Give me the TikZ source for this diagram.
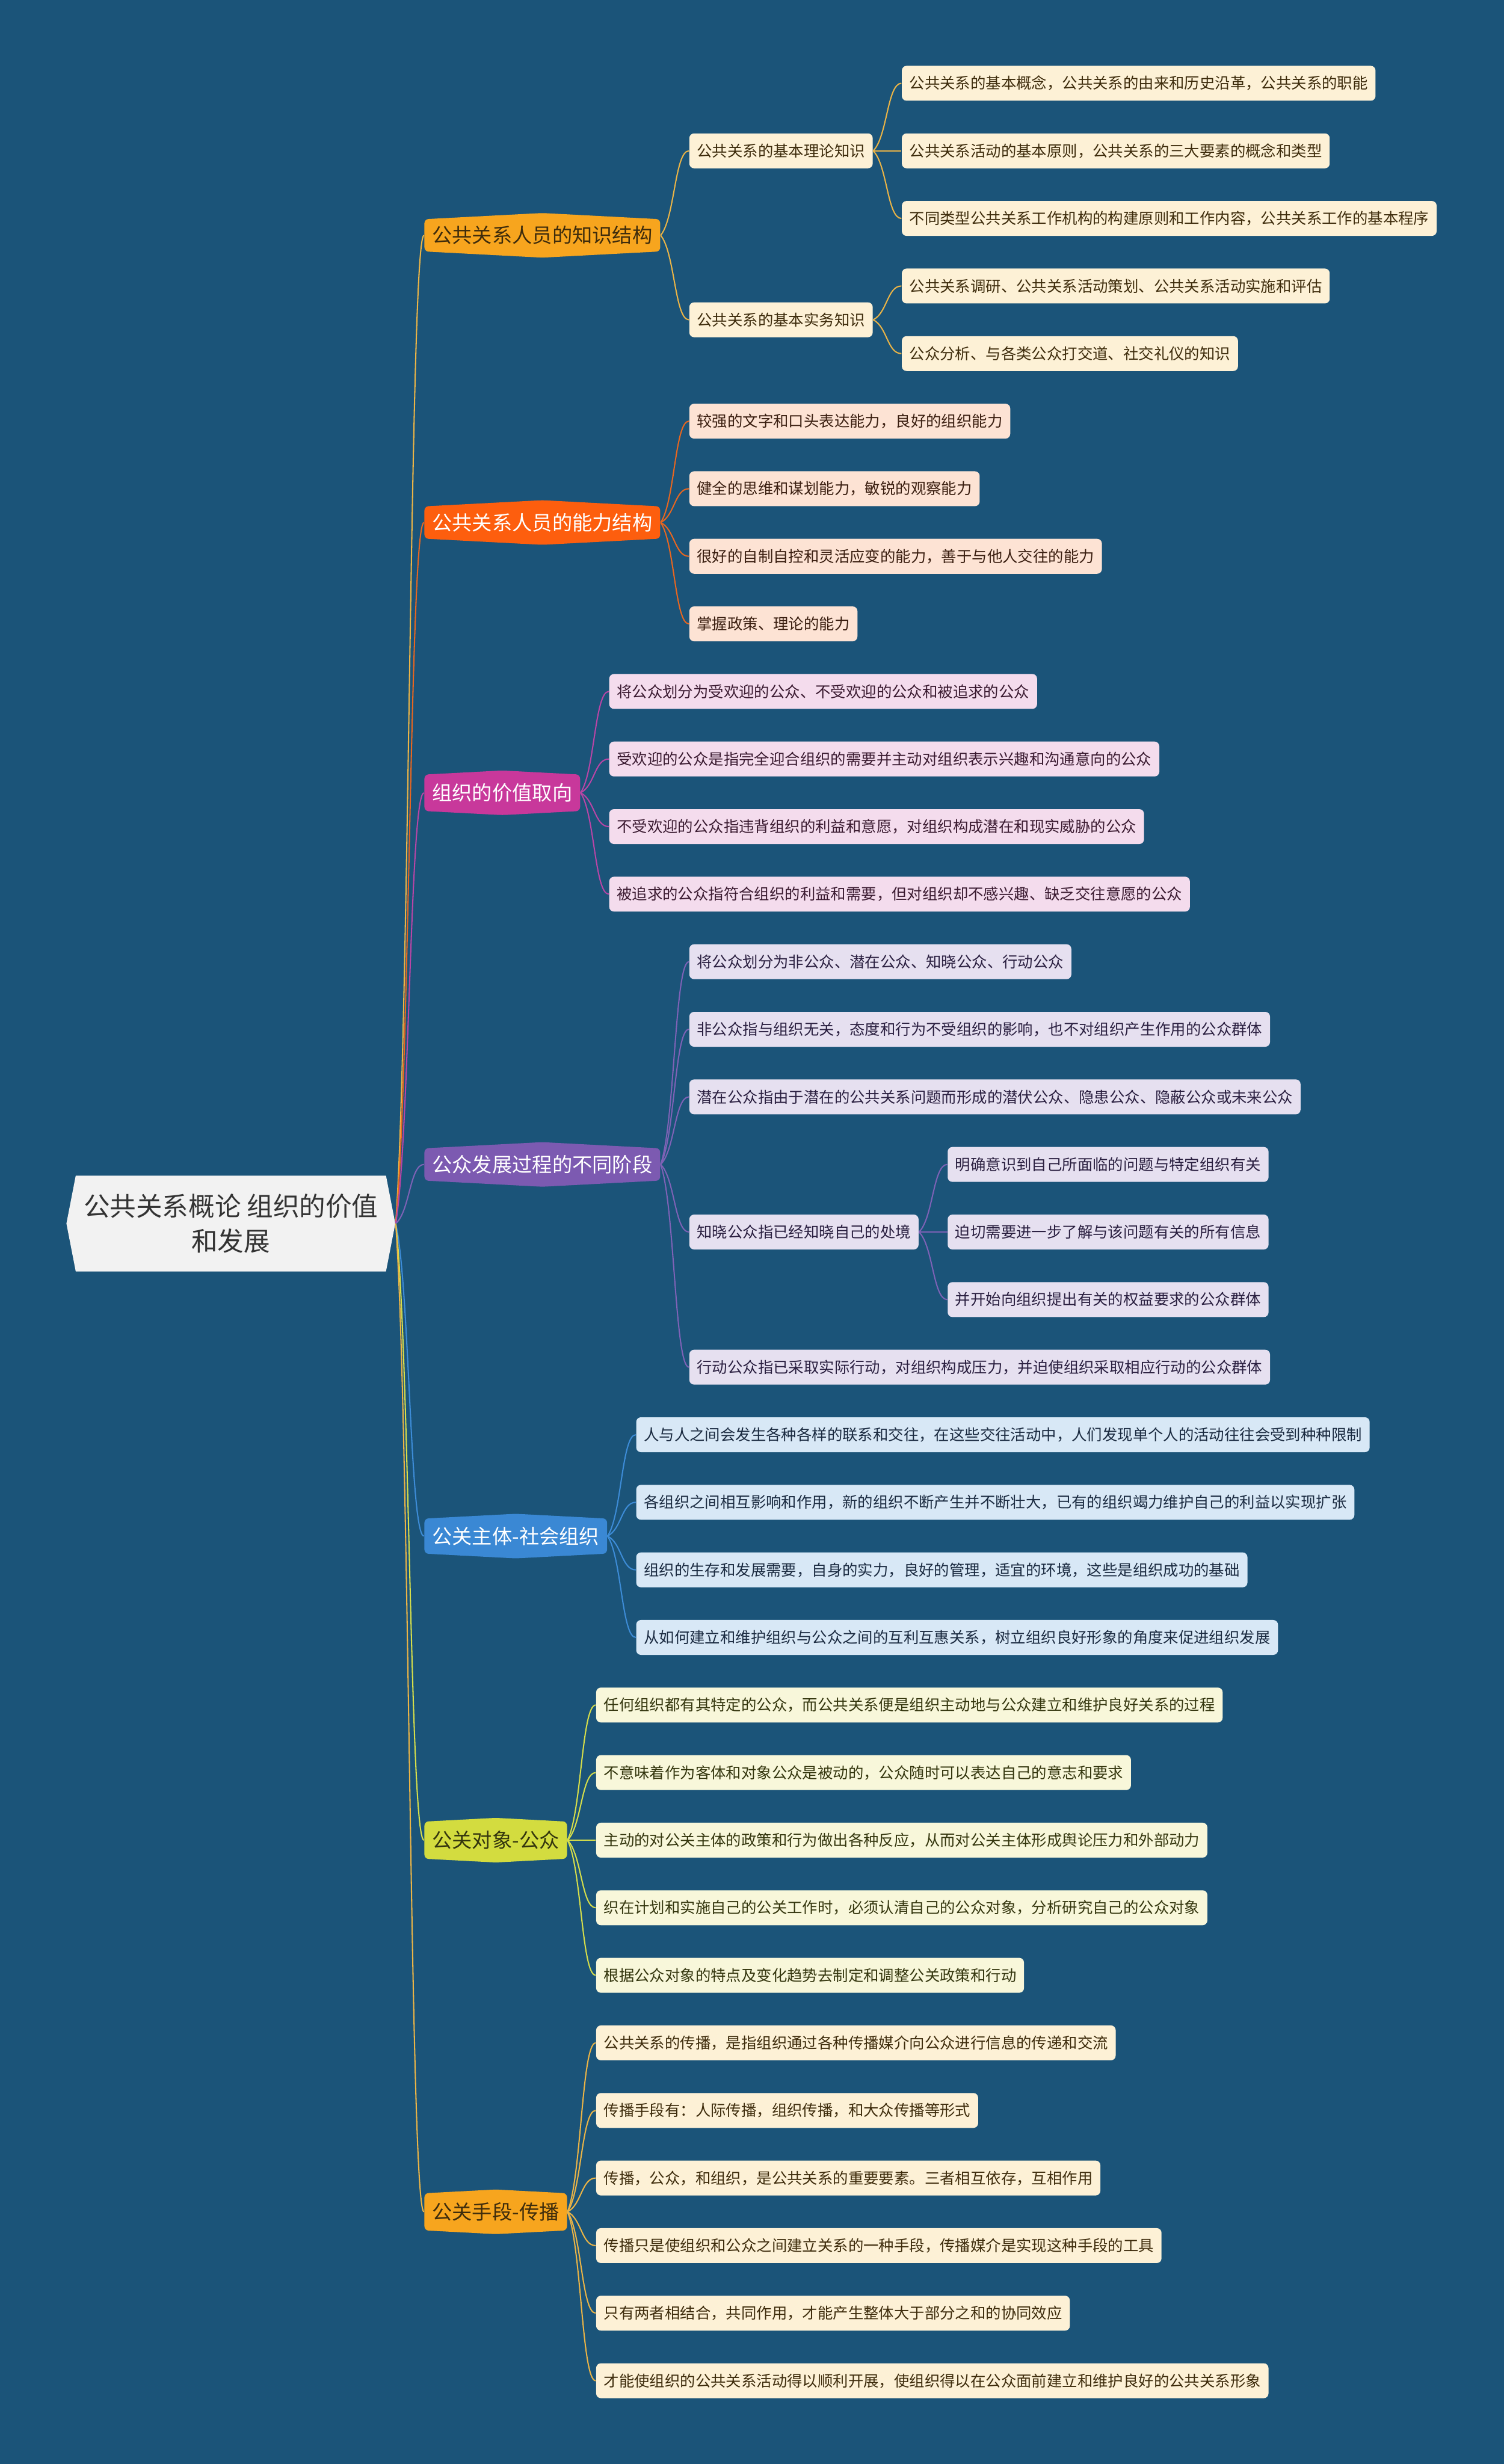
\documentclass[tikz,border=0pt]{standalone}
\usepackage{fontspec}
\setmainfont{Noto Sans CJK SC}
\usetikzlibrary{calc,shapes.symbols}

\definecolor{bg}{HTML}{1B5479}
\definecolor{rootfill}{HTML}{F2F2F2}
\definecolor{roottext}{HTML}{333333}
% branch colours: node fill, line, leaf fill, leaf text
\definecolor{orfill}{HTML}{F7A51E}
\definecolor{orline}{HTML}{EBB446}
\definecolor{orleaf}{HTML}{FDF1D6}
\definecolor{ortext}{HTML}{3E2C0C}
\definecolor{redfill}{HTML}{FD5E0E}
\definecolor{redline}{HTML}{E8661F}
\definecolor{redleaf}{HTML}{FDE3D4}
\definecolor{redtext}{HTML}{3A1E10}
\definecolor{magfill}{HTML}{C8389B}
\definecolor{magline}{HTML}{B945A6}
\definecolor{magleaf}{HTML}{F4DCED}
\definecolor{magtext}{HTML}{3A1A30}
\definecolor{purfill}{HTML}{7C5AB1}
\definecolor{purline}{HTML}{7E62B6}
\definecolor{purleaf}{HTML}{E6E0F0}
\definecolor{purtext}{HTML}{2A1F40}
\definecolor{blufill}{HTML}{3A88D4}
\definecolor{bluline}{HTML}{3D8CD7}
\definecolor{bluleaf}{HTML}{D8E8F6}
\definecolor{blutext}{HTML}{1A2A40}
\definecolor{grnfill}{HTML}{D3DC3F}
\definecolor{grnline}{HTML}{D6DE4A}
\definecolor{grnleaf}{HTML}{F8F7DA}
\definecolor{grntext}{HTML}{34360E}

\tikzset{
  root/.style={signal, signal to=east and west, signal pointer angle=158,
    fill=rootfill, text=roottext, align=center, inner xsep=3.85pt, inner ysep=0pt,
    minimum height=46.4pt, font=\fontsize{12.7}{16.7}\selectfont},
  hexa/.style 2 args={anchor=west, xshift=13.7pt, signal, signal to=north and south,
    signal pointer angle=174, fill=#1, text=#2, inner xsep=3.75pt, inner ysep=0pt,
    minimum height=21.6pt, rounded corners=2pt, font=\fontsize{9.7}{11}\selectfont},
  leaf/.style 2 args={anchor=west, xshift=13.7pt, fill=#1, text=#2, inner xsep=3.7pt,
    inner ysep=0pt, minimum height=16.9pt, rounded corners=2.3pt,
    font=\fontsize{7.4}{9}\selectfont},
  wire/.style={draw=#1, line width=0.6pt},
}
% curved connector, parent east to child west
\newcommand{\link}[3]{\draw[wire=#1] (#2.east) .. controls ($(#2.east)!0.2!(#3.west)+(5.4,0)$)
  and ($(#2.east |- #3.west)+(9,0)$) .. (#3.west);}

\begin{document}
\begin{tikzpicture}[x=0.02675cm, y=-0.02675cm]
\fill[bg] (0,0) rectangle (957,1568);

\node[root, anchor=west] (root) at (42,778.6) {公共关系概论 组织的价值\\和发展};

% first level
\node[hexa={orfill}{ortext}] (know) at (root.east |- 0,149.75) {公共关系人员的知识结构};
\node[hexa={redfill}{white}] (abil) at (root.east |- 0,332.5) {公共关系人员的能力结构};
\node[hexa={magfill}{white}] (value) at (root.east |- 0,504.5) {组织的价值取向};
\node[hexa={purfill}{white}] (stage) at (root.east |- 0,741) {公众发展过程的不同阶段};
\node[hexa={blufill}{white}] (subj) at (root.east |- 0,977.5) {公关主体-社会组织};
\node[hexa={grnfill}{grntext}] (obj) at (root.east |- 0,1171) {公关对象-公众};
\node[hexa={orfill}{ortext}] (media) at (root.east |- 0,1407.5) {公关手段-传播};

% knowledge
\node[leaf={orleaf}{ortext}] (know-th) at (know.east |- 0,96) {公共关系的基本理论知识};
\node[leaf={orleaf}{ortext}] (know-pr) at (know.east |- 0,203.5) {公共关系的基本实务知识};
\node[leaf={orleaf}{ortext}] (know-th1) at (know-th.east |- 0,53) {公共关系的基本概念，公共关系的由来和历史沿革，公共关系的职能};
\node[leaf={orleaf}{ortext}] (know-th2) at (know-th.east |- 0,96) {公共关系活动的基本原则，公共关系的三大要素的概念和类型};
\node[leaf={orleaf}{ortext}] (know-th3) at (know-th.east |- 0,139) {不同类型公共关系工作机构的构建原则和工作内容，公共关系工作的基本程序};
\node[leaf={orleaf}{ortext}] (know-pr1) at (know-pr.east |- 0,182) {公共关系调研、公共关系活动策划、公共关系活动实施和评估};
\node[leaf={orleaf}{ortext}] (know-pr2) at (know-pr.east |- 0,225) {公众分析、与各类公众打交道、社交礼仪的知识};

% ability
\node[leaf={redleaf}{redtext}] (abil1) at (abil.east |- 0,268) {较强的文字和口头表达能力，良好的组织能力};
\node[leaf={redleaf}{redtext}] (abil2) at (abil.east |- 0,311) {健全的思维和谋划能力，敏锐的观察能力};
\node[leaf={redleaf}{redtext}] (abil3) at (abil.east |- 0,354) {很好的自制自控和灵活应变的能力，善于与他人交往的能力};
\node[leaf={redleaf}{redtext}] (abil4) at (abil.east |- 0,397) {掌握政策、理论的能力};

% value
\node[leaf={magleaf}{magtext}] (value1) at (value.east |- 0,440) {将公众划分为受欢迎的公众、不受欢迎的公众和被追求的公众};
\node[leaf={magleaf}{magtext}] (value2) at (value.east |- 0,483) {受欢迎的公众是指完全迎合组织的需要并主动对组织表示兴趣和沟通意向的公众};
\node[leaf={magleaf}{magtext}] (value3) at (value.east |- 0,526) {不受欢迎的公众指违背组织的利益和意愿，对组织构成潜在和现实威胁的公众};
\node[leaf={magleaf}{magtext}] (value4) at (value.east |- 0,569) {被追求的公众指符合组织的利益和需要，但对组织却不感兴趣、缺乏交往意愿的公众};

% stages
\node[leaf={purleaf}{purtext}] (stage1) at (stage.east |- 0,612) {将公众划分为非公众、潜在公众、知晓公众、行动公众};
\node[leaf={purleaf}{purtext}] (stage2) at (stage.east |- 0,655) {非公众指与组织无关，态度和行为不受组织的影响，也不对组织产生作用的公众群体};
\node[leaf={purleaf}{purtext}] (stage3) at (stage.east |- 0,698) {潜在公众指由于潜在的公共关系问题而形成的潜伏公众、隐患公众、隐蔽公众或未来公众};
\node[leaf={purleaf}{purtext}] (stage4) at (stage.east |- 0,784) {知晓公众指已经知晓自己的处境};
\node[leaf={purleaf}{purtext}] (stage5) at (stage.east |- 0,870) {行动公众指已采取实际行动，对组织构成压力，并迫使组织采取相应行动的公众群体};
\node[leaf={purleaf}{purtext}] (stage4a) at (stage4.east |- 0,741) {明确意识到自己所面临的问题与特定组织有关};
\node[leaf={purleaf}{purtext}] (stage4b) at (stage4.east |- 0,784) {迫切需要进一步了解与该问题有关的所有信息};
\node[leaf={purleaf}{purtext}] (stage4c) at (stage4.east |- 0,827) {并开始向组织提出有关的权益要求的公众群体};

% subject
\node[leaf={bluleaf}{blutext}] (subj1) at (subj.east |- 0,913) {人与人之间会发生各种各样的联系和交往，在这些交往活动中，人们发现单个人的活动往往会受到种种限制};
\node[leaf={bluleaf}{blutext}] (subj2) at (subj.east |- 0,956) {各组织之间相互影响和作用，新的组织不断产生并不断壮大，已有的组织竭力维护自己的利益以实现扩张};
\node[leaf={bluleaf}{blutext}] (subj3) at (subj.east |- 0,999) {组织的生存和发展需要，自身的实力，良好的管理，适宜的环境，这些是组织成功的基础};
\node[leaf={bluleaf}{blutext}] (subj4) at (subj.east |- 0,1042) {从如何建立和维护组织与公众之间的互利互惠关系，树立组织良好形象的角度来促进组织发展};

% object
\node[leaf={grnleaf}{grntext}] (obj1) at (obj.east |- 0,1085) {任何组织都有其特定的公众，而公共关系便是组织主动地与公众建立和维护良好关系的过程};
\node[leaf={grnleaf}{grntext}] (obj2) at (obj.east |- 0,1128) {不意味着作为客体和对象公众是被动的，公众随时可以表达自己的意志和要求};
\node[leaf={grnleaf}{grntext}] (obj3) at (obj.east |- 0,1171) {主动的对公关主体的政策和行为做出各种反应，从而对公关主体形成舆论压力和外部动力};
\node[leaf={grnleaf}{grntext}] (obj4) at (obj.east |- 0,1214) {织在计划和实施自己的公关工作时，必须认清自己的公众对象，分析研究自己的公众对象};
\node[leaf={grnleaf}{grntext}] (obj5) at (obj.east |- 0,1257) {根据公众对象的特点及变化趋势去制定和调整公关政策和行动};

% media
\node[leaf={orleaf}{ortext}] (media1) at (media.east |- 0,1300) {公共关系的传播，是指组织通过各种传播媒介向公众进行信息的传递和交流};
\node[leaf={orleaf}{ortext}] (media2) at (media.east |- 0,1343) {传播手段有：人际传播，组织传播，和大众传播等形式};
\node[leaf={orleaf}{ortext}] (media3) at (media.east |- 0,1386) {传播，公众，和组织，是公共关系的重要要素。三者相互依存，互相作用};
\node[leaf={orleaf}{ortext}] (media4) at (media.east |- 0,1429) {传播只是使组织和公众之间建立关系的一种手段，传播媒介是实现这种手段的工具};
\node[leaf={orleaf}{ortext}] (media5) at (media.east |- 0,1472) {只有两者相结合，共同作用，才能产生整体大于部分之和的协同效应};
\node[leaf={orleaf}{ortext}] (media6) at (media.east |- 0,1515) {才能使组织的公共关系活动得以顺利开展，使组织得以在公众面前建立和维护良好的公共关系形象};

% connectors
\link{orline}{root}{know}
\link{redline}{root}{abil}
\link{magline}{root}{value}
\link{purline}{root}{stage}
\link{bluline}{root}{subj}
\link{grnline}{root}{obj}
\link{orline}{root}{media}
\link{orline}{know}{know-th}
\link{orline}{know}{know-pr}
\link{orline}{know-th}{know-th1}
\link{orline}{know-th}{know-th2}
\link{orline}{know-th}{know-th3}
\link{orline}{know-pr}{know-pr1}
\link{orline}{know-pr}{know-pr2}
\link{redline}{abil}{abil1}
\link{redline}{abil}{abil2}
\link{redline}{abil}{abil3}
\link{redline}{abil}{abil4}
\link{magline}{value}{value1}
\link{magline}{value}{value2}
\link{magline}{value}{value3}
\link{magline}{value}{value4}
\link{purline}{stage}{stage1}
\link{purline}{stage}{stage2}
\link{purline}{stage}{stage3}
\link{purline}{stage}{stage4}
\link{purline}{stage}{stage5}
\link{purline}{stage4}{stage4a}
\link{purline}{stage4}{stage4b}
\link{purline}{stage4}{stage4c}
\link{bluline}{subj}{subj1}
\link{bluline}{subj}{subj2}
\link{bluline}{subj}{subj3}
\link{bluline}{subj}{subj4}
\link{grnline}{obj}{obj1}
\link{grnline}{obj}{obj2}
\link{grnline}{obj}{obj3}
\link{grnline}{obj}{obj4}
\link{grnline}{obj}{obj5}
\link{orline}{media}{media1}
\link{orline}{media}{media2}
\link{orline}{media}{media3}
\link{orline}{media}{media4}
\link{orline}{media}{media5}
\link{orline}{media}{media6}
\end{tikzpicture}
\end{document}
